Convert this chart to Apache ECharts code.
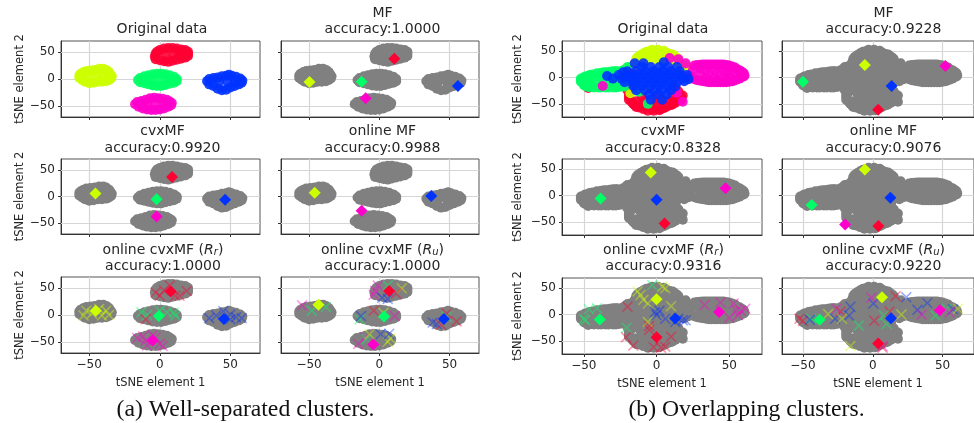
<!DOCTYPE html>
<html><head><meta charset="utf-8">
<style>html,body{margin:0;padding:0;background:#fff}#c{width:974px;height:423px}</style>
<script src="https://cdn.jsdelivr.net/npm/echarts@6/dist/echarts.min.js"></script>
</head><body><div id="c"></div>
<script>
// ---------- colours of the five clusters ----------
const RED='#ff0033', YEL='#ccff00', GRN='#00ff66', BLU='#0033ff', MAG='#ff00cc';

// ---------- t-SNE embedding, well-separated data ----------
const sepYellow=[[-57,7],[-56,10],[-54,13],[-52,15],[-49,16],[-46,17],[-43,19],[-40,19],[-38,17],[-36,13],[-35,9],[-34,5],[-34.5,1],[-36,-2],[-38,-4],[-41,-5],[-44,-5],[-47,-7],[-50,-8],[-53,-5],[-55,-2],[-57,2],[-50,6],[-44,6],[-40,6]];
const sepRed=[[-3,47],[-2,51],[0,54],[3,57],[6,58],[9,58],[12,57],[15,55],[18,54],[20,51],[20,47],[20,43],[18,40],[15,38],[12,36],[9,34],[6,32],[3,33],[0,35],[-3,37],[-3.5,42],[4,45],[10,45],[14,46]];
const sepGreen=[[-15.5,-2],[-14,2],[-11,5],[-8,7],[-5,9],[-2,10],[1,10],[4,9],[7,7],[10,4],[12,0],[12,-4],[10,-7],[7,-9],[4,-11],[1,-13],[-2,-13],[-5,-12],[-8,-10],[-11,-8],[-14,-6],[-6,-1],[0,-1],[6,-1]];
const sepBlue=[[33.5,-4],[35,0],[38,2],[41,3],[44,5],[47,6],[49,8],[51,6],[54,4],[57,1],[58.5,-3],[58,-7],[56,-10],[53,-13],[50,-16],[47,-20],[44,-21],[41,-18],[38,-13],[35,-10],[42,-5],[48,-5],[53,-4]];
const sepMagenta=[[-17.5,-47],[-16,-43],[-13,-41],[-10,-39],[-7,-36],[-4,-35],[-1,-36],[2,-37],[5,-39],[7,-42],[8.5,-45],[8,-49],[6,-52],[3,-55],[0,-57],[-3,-58],[-6,-58],[-9,-57],[-12,-55],[-15,-52],[-9,-47],[-3,-47],[3,-46]];

// ---------- t-SNE embedding, overlapping data ----------
const ovRed=[[-18,-21],[-20,-24],[-18,-28],[-19,-33],[-19,-37],[-10,-36],[0,-36],[10,-36],[16,-34],[17,-38],[17,-42],[-19,-42],[-17,-47],[-15,-52],[-12,-57],[-14,-45],[-8,-45],[-2,-45],[4,-45],[10,-45],[15,-43],[13,-48],[11,-51],[8,-54],[5,-58],[-16,-50],[-12,-53],[-6,-53],[0,-53],[6,-53],[10,-52],[-14,-56],[-9,-60],[-3,-60],[3,-60],[6,-57],[-6,-63],[-2,-63],[2,-62],[12,-18],[15,-26],[18,-34],[-47,-20],[8,38],[12,36]];
const ovYellow=[[-3,53],[1,53],[5,51],[-7,49],[-5,50],[-4,47],[0,47],[6,47],[7,47],[9,45],[11,44],[-9,46],[-11,43],[-13,39],[-12,40],[-14,35],[-6,40],[0,40],[6,40],[12,42],[14,38],[-15.5,24],[-15,27],[-14,31],[-6,33],[0,33],[6,33],[12,33],[15,33],[15,30],[16,27],[18,24],[20,22],[21,20],[-22,12],[-21,17],[-18,21],[-5,-22],[-18,-30]];
const ovGreen=[[-52,-5],[-52,-2],[-50,0],[-49,2],[-47,3],[-46,5],[-44,6],[-41,8],[-38,9],[-36,10],[-34,10],[-32,11],[-30,12],[-28,12],[-27,12],[-24,12],[-23,14],[-20,20],[-52,-8],[-51,-9],[-50,-14],[-49,-16],[-47,-18],[-45,-18],[-43,-19],[-40,-19],[-38,-19],[-35,-19],[-33,-19],[-30,-19],[-28,-19],[-26,-18],[-24,-17],[-22,-17],[-45,-3],[-39,0],[-33,2],[-27,3],[-46,-10],[-40,-10],[-34,-10],[-28,-8],[-22,-3],[-14,-20],[-12,-27],[-6,-50]];
const ovMagenta=[[26,23],[28,24],[30,24.5],[32,25],[34,25],[36,25],[38,25],[40,25],[42,25],[44,25],[46,25],[48,24],[50,23],[52,21],[54,19],[55,16],[57,14],[58,12],[59,10],[60,8],[60.5,4],[60,2],[58,0],[57,-2],[55,-4],[53,-6],[52,-7],[50,-8],[48,-9],[46,-9],[44,-9],[42,-9],[40,-9],[38,-9],[36,-9],[34,-8],[32,-7],[30,-6],[28,-5],[26,-3],[24,0],[23,4],[25,15],[31,17],[37,17],[43,17],[49,15],[30,8],[36,8],[42,8],[48,8],[54,8],[34,0],[40,0],[46,0],[51,0],[-37,-16],[-17,7],[14,-29],[18,-46],[18,3],[9,37],[15,35],[20,27]];
const ovBlue=[[-15,27],[-9,27],[5,29],[-23,10],[-10,20],[-4,20],[2,20],[8,20],[14,20],[-20,12],[-14,12],[-8,12],[-2,12],[4,12],[10,12],[16,12],[-34,3],[-26,5],[-20,5],[-14,5],[-8,5],[-2,5],[4,5],[10,5],[16,5],[21,5],[-30,-2],[-24,-2],[-18,-2],[-12,-2],[-6,-2],[0,-2],[6,-2],[12,-2],[18,-2],[22,-3],[-22,-9],[-16,-9],[-10,-9],[-4,-9],[2,-9],[8,-9],[14,-9],[19,-7],[-16,-16],[-10,-16],[-4,-16],[2,-16],[8,-16],[13,-17],[-14,-24],[-8,-24],[-2,-24],[4,-24],[10,-24],[-5,-32],[1,-32],[7,-32],[-4,-42],[4,-42]];

// ---------- centroid markers per panel ----------
const mfSepD=[[RED,[10.7,38]],[YEL,[-49.7,-5.6]],[GRN,[-12.6,-5]],[BLU,[56,-13]],[MAG,[-9.7,-36]]];
const cvxSepD=[[RED,[8.7,37]],[YEL,[-45.6,5.5]],[GRN,[-2.3,-5]],[BLU,[46.3,-6]],[MAG,[-2.3,-38]]];
const onlineSepD=[[YEL,[-46,7]],[BLU,[37,1]],[MAG,[-12.6,-27]]];
const rrSepD=[[RED,[7.8,44]],[YEL,[-45.4,8]],[GRN,[-0.7,-2]],[BLU,[45.4,-7.4]],[MAG,[-5,-47.6]]];
const ruSepD=[[RED,[7,45]],[YEL,[-43.3,19]],[GRN,[3.4,-3]],[BLU,[46,-7.4]],[MAG,[-4.3,-55]]];
const mfOvD=[[RED,[3.9,-61]],[YEL,[-5.7,24]],[GRN,[-50,-8]],[BLU,[13.5,-16]],[MAG,[52,22]]];
const cvxOvD=[[RED,[5.5,-53]],[YEL,[-4,44]],[GRN,[-38.5,-5.7]],[BLU,[0,-8]],[MAG,[47.4,14]]];
const onlineOvD=[[RED,[4,-58]],[YEL,[-5.7,49.5]],[GRN,[-43.8,-18]],[BLU,[12.6,-4]],[MAG,[-19.8,-55]]];
const rrOvD=[[RED,[0,-43]],[YEL,[0,29]],[GRN,[-39,-9.6]],[BLU,[12.8,-7.7]],[MAG,[43,5]]];
const ruOvD=[[RED,[3.9,-55]],[YEL,[6.6,33]],[GRN,[-38,-10]],[BLU,[13,-7]],[MAG,[48,8]]];

// ---------- sampled atoms (crosses) per panel ----------
const rrSepX=[
 [YEL,[[-52,8],[-48,3],[-43,11],[-38,8],[-41,-1],[-54,-1],[-36,0]]],
 [RED,[[0,36],[-3,42],[14,36],[19,45],[7,55],[11,36],[3,46]]],
 [GRN,[[-13,5],[5,5],[10,4],[-9,0],[11,-1],[0,8]]],
 [RED,[[-10,-8]]],
 [BLU,[[35,-6],[40,-1],[50,1],[54,-4],[58,-6],[45,7],[50,-8]]],
 [MAG,[[-16,-43],[-12,-40],[0,-54],[2,-58],[-9,-57],[-5,-38],[-3,-42],[-10,-48]]]];
const ruSepX=[
 [MAG,[[-3,45],[-1,55],[-55,18],[11,-2],[-15,-54],[-10,-42],[-4,38]]],
 [GRN,[[6,55],[-48,8],[-38,15],[-14,-8],[48,-3],[-9,-45]]],
 [YEL,[[16,50],[3,4],[-7,-36],[6,-50],[8,-44]]],
 [BLU,[[2,32],[6,30],[-13,-2],[38,-14],[41,-17],[1,-36],[7,-35]]],
 [RED,[[12,40],[-4,8],[55,-12],[44,-18],[48,3]]]];
const rrOvX=[
 [GRN,[[-46.5,10],[-41,12],[-50,-8],[-49,-11],[-20.6,-25],[-3,56]]],
 [YEL,[[-13,44],[-11,37],[-6,21],[-9,28],[4,53],[6,50],[10,16],[-6,-14]]],
 [BLU,[[-1,5],[2,7],[0,-1],[6,-8],[13,-14],[18,-11],[20,-11],[15,-8]]],
 [RED,[[-20,15],[-5,-22],[-5,-29],[10,-42],[-21,-43],[-16,-59],[-2,-62],[3,-63],[6,-61]]],
 [MAG,[[33,18],[44,23],[53,21],[55,8],[58,7],[61,11],[56,-1],[50,-6]]]];
const ruOvX=[
 [RED,[[-52.5,-8],[-50,-12],[-23,6],[1,-12],[16.4,35],[12,6],[7,-63]]],
 [GRN,[[-44,-8],[-10,-21],[8,-2],[10,-18],[53,11],[45,-2]]],
 [BLU,[[-45,-10],[-16,15],[0.5,21],[24,33],[32,9],[39,22],[57.5,10],[-27,-8],[-17,-2]]],
 [YEL,[[-32,1],[-22,-8],[20.5,0],[61,11],[-16,-60]]],
 [MAG,[[-26,11],[-1,32],[35,0],[7,-60],[55,4]]]];

// ---------- text ----------
const tickValues=[-50,0,50];
const xName='tSNE element 1', yName='tSNE element 2';
const captions=['(a) Well-separated clusters.','(b) Overlapping clusters.'];

const sepClusters=[[RED,sepRed],[YEL,sepYellow],[GRN,sepGreen],[BLU,sepBlue],[MAG,sepMagenta]];
const ovClusters=[[RED,ovRed],[YEL,ovYellow],[GRN,ovGreen],[MAG,ovMagenta],[BLU,ovBlue]];

// panel table: title lines, data references, box [left, top, w, h], axis ranges
const SEP=[-70,71,-71,71], OV=[-65,72.5,-75,69.5];
const panels=[
 {t:[null,'Original data'],tx:162,cl:sepClusters,color:true,box:[61,41,199,76],r:SEP,xl:false,yl:true,ng:35},
 {t:['MF','accuracy:1.0000'],tx:382.5,cl:sepClusters,d:mfSepD,box:[281,41,198,76],r:SEP,xl:false,yl:false},
 {t:['cvxMF','accuracy:0.9920'],tx:162.5,cl:sepClusters,d:cvxSepD,box:[61,159,199,75],r:SEP,xl:false,yl:true,ng:35},
 {t:['online MF','accuracy:0.9988'],tx:382.5,cl:sepClusters,d:onlineSepD,box:[281,159,198,75],r:SEP,xl:false,yl:false},
 {t:['online cvxMF ({i|R}{s|r})','accuracy:1.0000'],tx:163,cl:sepClusters,d:rrSepD,x:rrSepX,box:[61,277,199,76],r:SEP,xl:true,yl:true,ng:35},
 {t:['online cvxMF ({i|R}{s|u})','accuracy:1.0000'],tx:382.5,cl:sepClusters,d:ruSepD,x:ruSepX,box:[281,277,198,76],r:SEP,xl:true,yl:false},
 {t:[null,'Original data'],tx:663,cl:ovClusters,color:true,box:[562,41,200,76],r:OV,xl:false,yl:true,ng:38},
 {t:['MF','accuracy:0.9228'],tx:883.5,cl:ovClusters,d:mfOvD,box:[782,41,200,76],r:OV,xl:false,yl:false},
 {t:['cvxMF','accuracy:0.8328'],tx:663,cl:ovClusters,d:cvxOvD,box:[562,159,200,76],r:OV,xl:false,yl:true,ng:38},
 {t:['online MF','accuracy:0.9076'],tx:883.5,cl:ovClusters,d:onlineOvD,box:[782,159,200,76],r:OV,xl:false,yl:false},
 {t:['online cvxMF ({i|R}{s|r})','accuracy:0.9316'],tx:663.5,cl:ovClusters,d:rrOvD,x:rrOvX,box:[562,278,200,76],r:OV,xl:true,yl:true,ng:38},
 {t:['online cvxMF ({i|R}{s|u})','accuracy:0.9220'],tx:883.5,cl:ovClusters,d:ruOvD,x:ruOvX,box:[782,278,200,76],r:OV,xl:true,yl:false},
];

const FONT='DejaVu Sans', INK='#262626';
const crossPath='path://M1 0L5 4L9 0L10 1L6 5L10 9L9 10L5 6L1 10L0 9L4 5L0 1Z';
const minus=v=>String(v).replace('-','\u2212');
const option={animation:false,backgroundColor:'#fff',title:[],grid:[],xAxis:[],yAxis:[],series:[]};

panels.forEach((p,i)=>{
  const [l,t,w,h]=p.box;
  const rowY=t<100?[13,29.5]:t<200?[131.5,148]:[250,266.5];
  p.t.forEach((line,k)=>{ if(line===null) return;
    option.title.push({text:line,left:p.tx,top:rowY[k],textAlign:'center',textVerticalAlign:'middle',padding:0,
      textStyle:{fontFamily:FONT,fontSize:14,fontWeight:'normal',color:INK,
        rich:{i:{fontFamily:FONT,fontSize:14,fontStyle:'italic',color:INK},
              s:{fontFamily:FONT,fontSize:10,fontStyle:'italic',color:INK,padding:[5,0,0,0]}}}});
  });
  option.grid.push({left:l,top:t,width:w,height:h,show:true,borderColor:'#555',borderWidth:1,backgroundColor:'transparent'});
  const common=(show)=>({type:'value',gridIndex:i,scale:false,splitLine:{show:false},
    axisLine:{show:true,onZero:false,lineStyle:{color:'#333',width:1}},
    axisTick:{show:true,length:3,inside:false,customValues:tickValues,lineStyle:{color:'#333',width:1}},
    axisLabel:{show:show,customValues:tickValues,fontFamily:FONT,fontSize:12,color:INK,margin:6,formatter:minus}});
  const xa=common(p.xl); xa.min=p.r[0]; xa.max=p.r[1]; xa.position='bottom';
  if(p.xl) Object.assign(xa,{name:xName,nameLocation:'middle',nameGap:24,nameTextStyle:{fontFamily:FONT,fontSize:11.5,color:INK}});
  const ya=common(p.yl); ya.min=p.r[2]; ya.max=p.r[3]; ya.position='left';
  if(p.yl) Object.assign(ya,{name:yName,nameLocation:'middle',nameGap:p.ng,nameRotate:90,nameTextStyle:{fontFamily:FONT,fontSize:11.5,color:INK}});
  option.xAxis.push(xa); option.yAxis.push(ya);

  const base={type:'scatter',xAxisIndex:i,yAxisIndex:i,silent:true,clip:true,animation:false};
  // grid lines, placed at the tick values
  option.series.push(Object.assign({},base,{data:[],z:1,markLine:{silent:true,z:1,animation:false,symbol:['none','none'],label:{show:false},
     lineStyle:{color:'#d6d6d6',width:1.2,type:'solid'},
     data:tickValues.map(v=>({xAxis:v})).concat(tickValues.map(v=>({yAxis:v})))}}));
  // cluster points
  p.cl.forEach(([c,pts])=>option.series.push(Object.assign({},base,{z:2,data:pts,symbol:'circle',symbolSize:10,
     itemStyle:{color:p.color?c:'#808080',opacity:p.color?0.9:1}})));
  // crosses
  (p.x||[]).forEach(([c,pts])=>option.series.push(Object.assign({},base,{z:3,data:pts,symbol:crossPath,symbolSize:11,
     itemStyle:{color:c,opacity:0.42}})));
  // diamonds
  (p.d||[]).forEach(([c,pt])=>option.series.push(Object.assign({},base,{z:4,data:[pt],symbol:'diamond',symbolSize:12,
     itemStyle:{color:c,opacity:1}})));
});
[[245.5,captions[0]],[746.5,captions[1]]].forEach(([x,s])=>option.title.push({text:s,left:x,top:410,textAlign:'center',textVerticalAlign:'middle',padding:0,
   textStyle:{fontFamily:'Liberation Serif',fontSize:23.7,fontWeight:'normal',color:'#111'}}));

echarts.init(document.getElementById('c'),null,{renderer:'canvas'}).setOption(option);
</script></body></html>
